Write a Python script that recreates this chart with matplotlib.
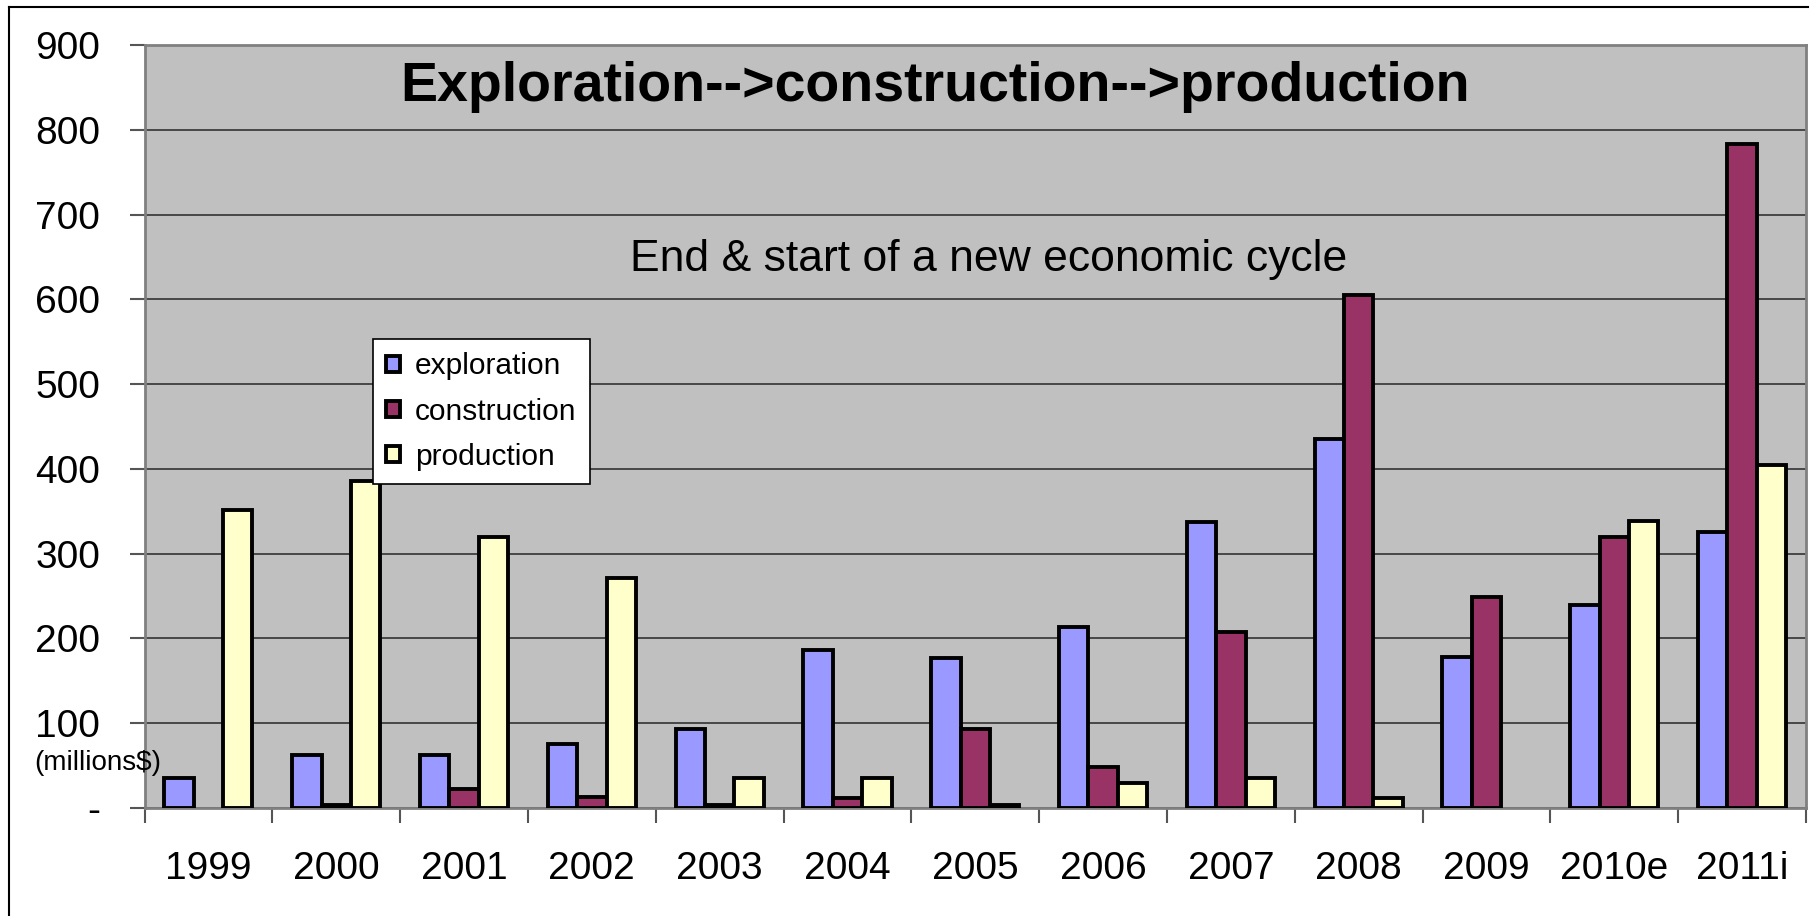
import numpy as np
import matplotlib.pyplot as plt
from matplotlib.lines import Line2D

plt.rcParams['font.family'] = ['Liberation Sans', 'DejaVu Sans']

years = ['1999', '2000', '2001', '2002', '2003', '2004', '2005',
         '2006', '2007', '2008', '2009', '2010e', '2011i']
exploration = [35, 62, 62, 75, 93, 186, 177, 213, 337, 435, 178, 240, 325]
construction = [np.nan, 4, 22, 13, 4, 12, 93, 48, 208, 605, 249, 320, 783]
production = [351, 386, 320, 271, 35, 35, 4, 30, 35, 12, np.nan, 338, 405]
yticks = [0, 100, 200, 300, 400, 500, 600, 700, 800, 900]
ytick_labels = ['-'] + [str(v) for v in yticks[1:]]

W, H = 1812, 916
fig = plt.figure(figsize=(W / 100, H / 100), dpi=100)
ax = fig.add_axes([144.5 / W, (H - 808) / H, 1661.5 / W, 763 / H])
ax.set_facecolor('#C0C0C0')

x = np.arange(len(years))
w = 0.23
kw = dict(width=w, edgecolor='black', linewidth=2.8, zorder=3)
ax.bar(x - w, exploration, color='#9999FF', label='exploration', **kw)
ax.bar(x, construction, color='#993366', label='construction', **kw)
ax.bar(x + w, production, color='#FFFFCC', label='production', **kw)

ax.set_xlim(-0.5, len(years) - 0.5)
ax.set_ylim(0, 900)
ax.set_yticks(yticks)
ax.set_yticklabels(ytick_labels)
ax.yaxis.grid(True, color='#333333', linewidth=1.2)
ax.set_axisbelow(True)

ax.set_xticks(np.arange(len(years) + 1) - 0.5)
ax.set_xticklabels([])
ax.set_xticks(x, minor=True)
ax.set_xticklabels(years, minor=True)
ax.tick_params(axis='x', which='major', length=11, width=1.5, color='#555555',
               direction='out')
ax.tick_params(axis='x', which='minor', length=0, pad=31, labelsize=28)
ax.tick_params(axis='y', length=11, width=1.5, color='#555555', pad=21,
               labelsize=28)

for s in ax.spines.values():
    s.set_color('#808080')
    s.set_linewidth(2)

ax.text(0.476, 0.945, 'Exploration-->construction-->production',
        transform=ax.transAxes, ha='center', va='center',
        fontsize=40, fontweight='bold', zorder=5)
ax.text(0.508, 0.7195, 'End & start of a new economic cycle',
        transform=ax.transAxes, ha='center', va='center',
        fontsize=32, zorder=5)

fig.text(98 / W, 1 - 763 / H, '(millions$)', ha='center', va='center',
         fontsize=20, zorder=6)

leg = ax.legend(loc='upper left', bbox_to_anchor=(0.1375, 0.6147),
                borderaxespad=0, fontsize=21.5, frameon=True, fancybox=False,
                edgecolor='black', facecolor='white', framealpha=1,
                handlelength=0.45, handleheight=0.45, handletextpad=0.5,
                labelspacing=0.58, borderpad=0.45)
leg.get_frame().set_linewidth(1.2)
leg.set_zorder(6)

# outer chart frame
fig.add_artist(Line2D([9 / W, 9 / W], [0, 1 - 7 / H], color='black', lw=1.5))
fig.add_artist(Line2D([9 / W, 1808 / W], [1 - 7 / H, 1 - 7 / H],
                      color='black', lw=1.5))

fig.savefig('out.png', dpi=100)
